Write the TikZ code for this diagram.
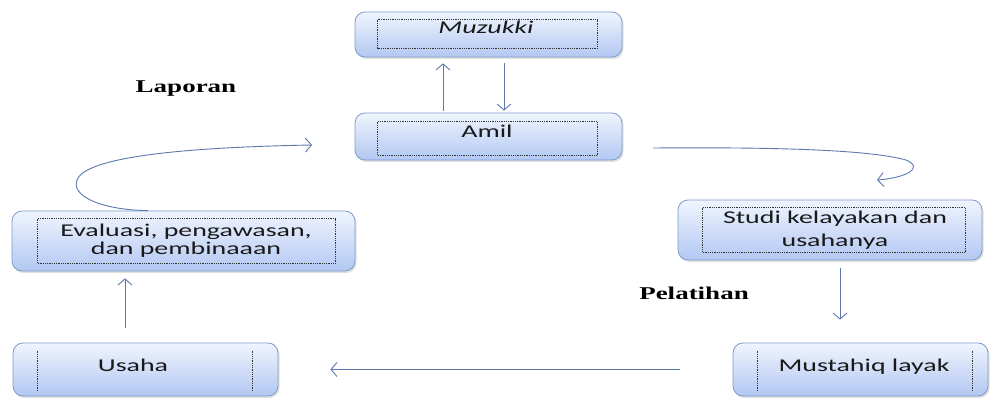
\documentclass[tikz,border=0pt]{standalone}
\usepackage{fontspec}
\setmainfont{Liberation Serif}
\newfontfamily\calibrifont{Carlito}
\usepackage{graphicx}
\usetikzlibrary{arrows.meta,shadows,calc}
\definecolor{boxline}{HTML}{7F9BCB}
\definecolor{boxtop}{HTML}{F0F5FE}
\definecolor{boxbot}{HTML}{B2C7F2}
\definecolor{arrowc}{HTML}{5B79AD}
\newcommand{\stretchtext}[1]{\scalebox{1.55}[1]{#1}}
\begin{document}
\begin{tikzpicture}[x=1pt,y=-1pt,
 boxnode/.style={rectangle, rounded corners=10pt, draw=boxline, line width=0.8pt,
   top color=boxtop, bottom color=boxbot, inner sep=0pt,
   drop shadow={shadow xshift=1.5pt, shadow yshift=-2pt, fill=black!30, opacity=0.4}},
 boxtext/.style={font=\calibrifont\fontsize{18}{20}\selectfont, text=black!90, inner sep=0pt, anchor=base},
 sidetext/.style={font=\fontsize{18}{20}\selectfont\bfseries, inner sep=0pt, anchor=base},
 dots/.style={densely dotted, line width=0.8pt, black!80},
 arr/.style={draw=arrowc, line width=0.9pt, -{Straight Barb[length=6pt,width=14pt]}}]
\useasboundingbox (0,0) rectangle (992,398);
\fill[white] (0,0) rectangle (992,398);

% boxes
\node[boxnode, minimum width=267pt, minimum height=45pt] (mz) at (488.5,34.5) {};
\node[boxnode, minimum width=267pt, minimum height=47pt] (am) at (488.5,136.5) {};
\node[boxnode, minimum width=343pt, minimum height=60pt] (ev) at (183.5,241) {};
\node[boxnode, minimum width=304pt, minimum height=60pt] (st) at (830,230) {};
\node[boxnode, minimum width=265pt, minimum height=53pt] (us) at (145.5,369.5) {};
\node[boxnode, minimum width=255pt, minimum height=53pt] (mu) at (860.5,369.5) {};

% dotted inner frames
\draw[dots] ($(mz.north west)+(23,8)$) rectangle ($(mz.south east)+(-25,-9)$);
\draw[dots] ($(am.north west)+(23,9)$) rectangle ($(am.south east)+(-25,-5)$);
\draw[dots] ($(ev.north west)+(26,8)$) rectangle ($(ev.south east)+(-20,-8)$);
\draw[dots] ($(st.north west)+(25,8)$) rectangle ($(st.south east)+(-17,-8)$);
\draw[dots] ($(us.north west)+(25,8)$) -- ($(us.south west)+(25,-6)$);
\draw[dots] ($(us.north east)+(-26,8)$) -- ($(us.south east)+(-26,-6)$);
\draw[dots] ($(mu.north west)+(25,8)$) -- ($(mu.south west)+(25,-6)$);
\draw[dots] ($(mu.north east)+(-16,8)$) -- ($(mu.south east)+(-16,-6)$);

% texts
\node[boxtext] (mzt) at (486,34) {\stretchtext{\itshape Muzukki}};
\node[boxtext] (amt) at (487,138) {\stretchtext{Amil}};
\node[boxtext] (evt1) at (186,236) {\stretchtext{Evaluasi, pengawasan,}};
\node[boxtext] (evt2) at (186,254) {\stretchtext{dan pembinaaan}};
\node[boxtext] (stt1) at (835,223) {\stretchtext{Studi kelayakan dan}};
\node[boxtext] (stt2) at (835,246) {\stretchtext{usahanya}};
\node[boxtext] (ust) at (133,371) {\stretchtext{Usaha}};
\node[boxtext] (mut) at (864,371) {\stretchtext{Mustahiq layak}};
\node[sidetext] (lap) at (186,93) {\scalebox{1.5}[1]{Laporan}};
\node[sidetext] (pel) at (694,299) {\scalebox{1.5}[1]{Pelatihan}};

% straight arrows
\draw[arr, shorten <=2pt, shorten >=6pt] ([xshift=-45.5pt]am.north) -- ([xshift=-45.5pt]mz.south);
\draw[arr, shorten <=6pt, shorten >=2pt] ([xshift=15.5pt]mz.south) -- ([xshift=15.5pt]am.north);
\draw[arr, shorten <=8pt, shorten >=23pt] ([xshift=10pt]st.south) -- ([xshift=-20.5pt]mu.north);
\draw[arr, shorten <=53pt, shorten >=52pt] (mu.west) -- (us.east);
\draw[arr, shorten <=15pt, shorten >=7pt] ([xshift=-20.5pt]us.north) -- ([xshift=-58.5pt]ev.south);

% curved arrows
\coordinate (lc) at (312,145);
\draw[arr] ([xshift=-35.5pt]ev.north) .. controls (100,210) and (68,195) .. (78,178)
  .. controls (92,155) and (200,147) .. (lc);
\coordinate (rc0) at (653,148);
\coordinate (rc) at (877,180);
\draw[arr] (rc0) .. controls (780,147) and (870,150) .. (906,160)
  .. controls (925,168) and (905,178) .. (rc);
\end{tikzpicture}
\end{document}
